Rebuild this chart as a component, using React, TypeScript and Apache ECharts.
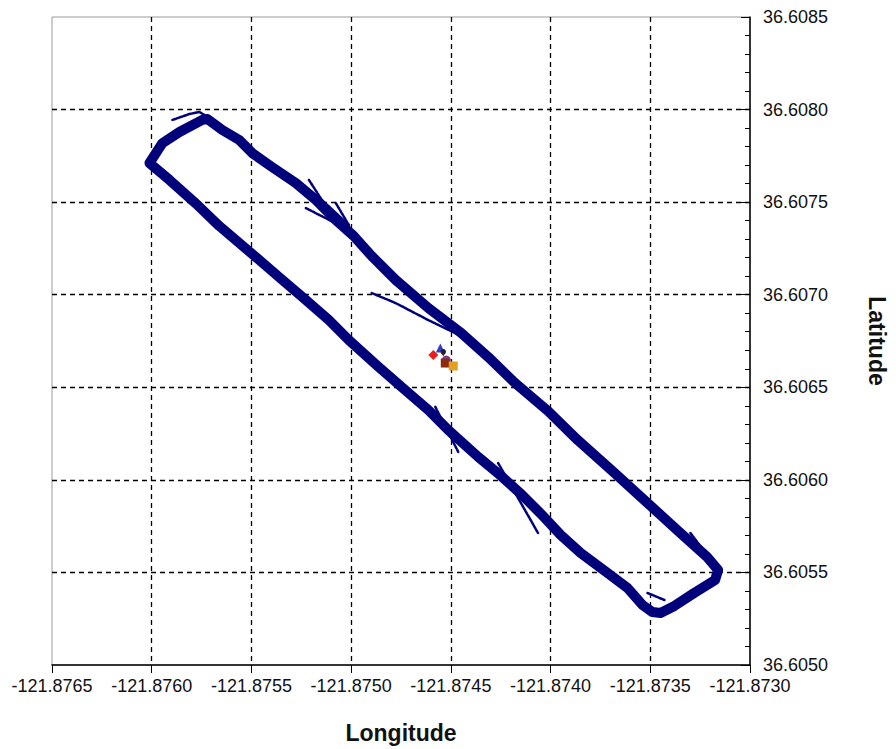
import React, { useEffect, useRef } from "react";
import * as echarts from "echarts";

// Axis ranges / ticks
const lonMin = -121.8765;
const lonMax = -121.873;
const latMin = 36.605;
const latMax = 36.6085;
const tickStep = 0.0005;

// Main survey loop
const loopLon = [
  -121.876011, -121.875946, -121.875861, -121.875746, -121.875721, -121.875646,
  -121.875561, -121.875496, -121.875397, -121.875277, -121.875177, -121.875077,
  -121.874987, -121.874897, -121.874777, -121.874613, -121.874448, -121.874313,
  -121.874178, -121.874013, -121.873864, -121.873679, -121.873514, -121.873349,
  -121.873215, -121.87316, -121.873175, -121.87328, -121.873379, -121.873449,
  -121.873489, -121.873539, -121.873614, -121.873714, -121.873849, -121.873949,
  -121.874048, -121.874148, -121.874248, -121.874363, -121.874513, -121.874613,
  -121.874712, -121.874862, -121.875012, -121.875112, -121.875227, -121.875362,
  -121.875496, -121.875661, -121.875776, -121.875911, -121.876011,
];
const loopLat = [
  36.607711, 36.607819, 36.607879, 36.607944, 36.607949, 36.60789,
  36.607836, 36.607765, 36.60769, 36.607603, 36.607512, 36.607404,
  36.607317, 36.607209, 36.60708, 36.606928, 36.606793, 36.606664,
  36.606523, 36.606372, 36.606215, 36.606037, 36.605875, 36.605713,
  36.605583, 36.605513, 36.605459, 36.605389, 36.605319, 36.605281,
  36.605286, 36.605324, 36.605416, 36.605497, 36.605605, 36.605702,
  36.605816, 36.605924, 36.606021, 36.606124, 36.606269, 36.606377,
  36.606469, 36.60661, 36.606755, 36.606863, 36.606972, 36.607096,
  36.60722, 36.607371, 36.60749, 36.60762, 36.607711,
];

// Short stray tracks
const spurTopLon = [-121.875896, -121.875811, -121.875761, -121.875736];
const spurTopLat = [36.607944, 36.607976, 36.607987, 36.607971];
const spurB1Lon = [-121.875212, -121.875147, -121.875012];
const spurB1Lat = [36.60762, 36.607512, 36.607377];
const spurB2Lon = [-121.875227, -121.875012];
const spurB2Lat = [36.607468, 36.60735];
const spurB3Lon = [-121.875077, -121.875012];
const spurB3Lat = [36.607495, 36.607377];
const spurMidLon = [-121.874897, -121.874777, -121.874613, -121.874478];
const spurMidLat = [36.607009, 36.606955, 36.606863, 36.606793];
const spurLowLon = [-121.874578, -121.874463];
const spurLowLat = [36.606394, 36.606151];
const spurEastLon = [-121.874263, -121.874063];
const spurEastLat = [36.606091, 36.605713];
const spurCornerLon = [-121.873299, -121.873215];
const spurCornerLat = [36.605713, 36.605594];
const spurBottomLon = [-121.873514, -121.873429];
const spurBottomLat = [36.605389, 36.605351];

// Station markers near the centre
const stationNames = ["S1", "S2", "S3", "S4", "S5", "S6"];
const stationLon = [-121.874588, -121.874553, -121.874538, -121.874523, -121.874528, -121.874488];
const stationLat = [36.606674, 36.606712, 36.606664, 36.606647, 36.606631, 36.606615];
const stationSymbols = ["diamond", "triangle", "pin", "circle", "rect", "rect"];
const stationColors = ["#e8201a", "#3a3ac8", "#222222", "#7a3c8c", "#8a2a10", "#e0a020"];

const zip = (a: number[], b: number[]) => a.map((v, i) => [v, b[i]]);

const NAVY = "#00007a";
const FONT = "Liberation Sans, Arial, sans-serif";

export default function App() {
  const ref = useRef<HTMLDivElement>(null);
  useEffect(() => {
    document.body.style.margin = "0";
    const chart = echarts.init(ref.current!, null, { renderer: "svg" });
    const spurs = [
      [spurTopLon, spurTopLat],
      [spurB1Lon, spurB1Lat],
      [spurB2Lon, spurB2Lat],
      [spurB3Lon, spurB3Lat],
      [spurMidLon, spurMidLat],
      [spurLowLon, spurLowLat],
      [spurEastLon, spurEastLat],
      [spurCornerLon, spurCornerLat],
      [spurBottomLon, spurBottomLat],
    ];
    const series: any[] = [
      {
        type: "line",
        data: zip(loopLon, loopLat),
        symbol: "none",
        lineStyle: { color: NAVY, width: 10, join: "round", cap: "round" },
        z: 2,
      },
      ...spurs.map(([lo, la]) => ({
        type: "line",
        data: zip(lo, la),
        symbol: "none",
        lineStyle: { color: NAVY, width: 2.5, cap: "round", type: [3, 1] },
        z: 2,
      })),
      ...stationNames.map((n, i) => ({
        type: "scatter",
        name: n,
        data: [[stationLon[i], stationLat[i]]],
        symbol: stationSymbols[i],
        symbolSize: i === 0 ? 10 : 9,
        itemStyle: { color: stationColors[i], opacity: 1 },
        z: 5,
      })),
    ];
    chart.setOption({
      animation: false,
      backgroundColor: "#ffffff",
      grid: {
        left: 52,
        right: 143,
        top: 17,
        bottom: 84,
        show: true,
        borderColor: "#9a9a9a",
        borderWidth: 1,
        containLabel: false,
      },
      xAxis: {
        type: "value",
        min: lonMin,
        max: lonMax,
        interval: tickStep,
        name: "Longitude",
        nameLocation: "middle",
        nameGap: 56,
        nameTextStyle: { fontFamily: FONT, fontSize: 23, fontWeight: "bold", color: "#111" },
        axisLine: { show: true, onZero: false, lineStyle: { color: "#000", width: 1.5 } },
        axisTick: { show: true, inside: false, length: 8, lineStyle: { color: "#000" } },
        axisLabel: {
          fontFamily: FONT,
          fontSize: 18,
          color: "#111",
          margin: 12,
          formatter: (v: number) => v.toFixed(4),
        },
        splitLine: {
          show: true,
          showMinLine: false,
          showMaxLine: false,
          lineStyle: { color: "#000", type: [5, 4], width: 1.3 },
        },
      },
      yAxis: {
        type: "value",
        position: "right",
        min: latMin,
        max: latMax,
        interval: tickStep,
        name: "Latitude",
        nameLocation: "middle",
        nameRotate: -90,
        nameGap: 115,
        nameTextStyle: { fontFamily: FONT, fontSize: 23, fontWeight: "bold", color: "#111" },
        axisLine: { show: true, onZero: false, lineStyle: { color: "#000", width: 1.5 } },
        axisTick: { show: true, inside: true, length: 9, lineStyle: { color: "#000" } },
        minorTick: { show: true, splitNumber: 5, length: 5, lineStyle: { color: "#000" } },
        axisLabel: {
          fontFamily: FONT,
          fontSize: 18,
          color: "#111",
          margin: 13,
          formatter: (v: number) => v.toFixed(4),
        },
        splitLine: {
          show: true,
          showMinLine: false,
          showMaxLine: false,
          lineStyle: { color: "#000", type: [5, 4], width: 1.3 },
        },
      },
      series,
    });
    return () => chart.dispose();
  }, []);
  return (
    <div
      ref={ref}
      style={{ position: "absolute", left: 0, top: 0, width: 896, height: 749 }}
    />
  );
}
